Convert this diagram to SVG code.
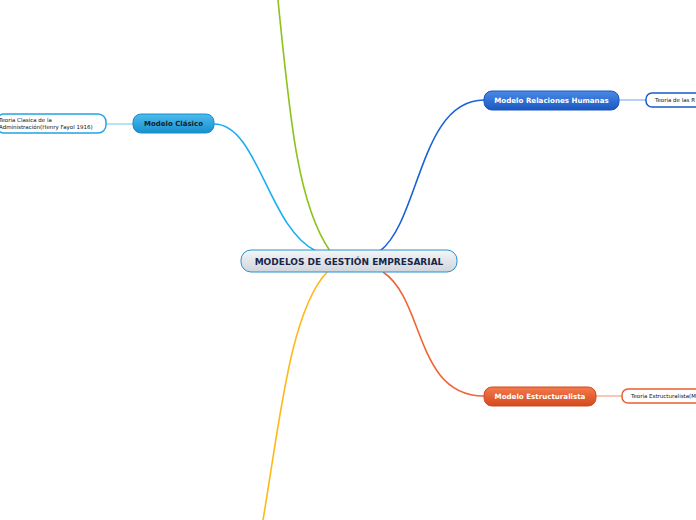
<svg xmlns="http://www.w3.org/2000/svg" width="696" height="520" viewBox="0 0 696 520">
<defs>
<linearGradient id="gCenter" x1="0" y1="0" x2="0" y2="1"><stop offset="0" stop-color="#f4f6f8"/><stop offset="1" stop-color="#cfd5db"/></linearGradient>
<linearGradient id="gClasico" x1="0" y1="0" x2="0" y2="1"><stop offset="0" stop-color="#4cbcee"/><stop offset="1" stop-color="#1890cc"/></linearGradient>
<linearGradient id="gRel" x1="0" y1="0" x2="0" y2="1"><stop offset="0" stop-color="#4a8ae6"/><stop offset="1" stop-color="#1a58c0"/></linearGradient>
<linearGradient id="gEst" x1="0" y1="0" x2="0" y2="1"><stop offset="0" stop-color="#f47a4c"/><stop offset="1" stop-color="#d44a1e"/></linearGradient>
</defs>
<style>
.lbl{font-family:"DejaVu Sans",Verdana,sans-serif;font-weight:bold;text-anchor:middle;dominant-baseline:central}
.small{font-family:"DejaVu Sans",Verdana,sans-serif;font-size:5.5px;fill:#111}
.conn{fill:none;stroke-width:1.6}
.sub{fill:#fff;stroke-width:1.5}
</style>
<rect width="696" height="520" fill="#fff"/>
<g id="connectors">
<path class="conn" stroke="#1aaef0" d="M214,124 C258,124 268,228 316,251"/>
<path class="conn" stroke="#8cc21a" d="M278,0 C290,120 298,205 330,251"/>
<path class="conn" stroke="#1a62d6" d="M380,251 C420,220 420,100 484,100"/>
<path class="conn" stroke="#ffb81a" d="M327,272 C290,312 280,420 263,520"/>
<path class="conn" stroke="#f06436" d="M383,272 C425,300 415,396 484,396"/>
<path class="conn" stroke="#a8daf4" d="M106,124 L133,124"/>
<path class="conn" stroke="#a8c4f2" d="M619,100 L646,100"/>
<path class="conn" stroke="#f8b8a0" d="M596,396 L622,396"/>
</g>
<g id="center">
<rect x="241" y="250" width="216" height="22" rx="10" fill="url(#gCenter)" stroke="#2a8fd0" stroke-width="1"/>
<text class="lbl" x="349" y="261.5" font-size="9" fill="#1a2648">MODELOS DE GESTIÓN EMPRESARIAL</text>
</g>
<g id="modelo-clasico">
<rect x="133" y="114" width="81" height="19" rx="8" fill="url(#gClasico)" stroke="#1a8ccc" stroke-width="1"/>
<text class="lbl" x="173.5" y="123.5" font-size="7" fill="#14202e">Modelo Clásico</text>
</g>
<g id="teoria-clasica">
<rect x="-4" y="114" width="110" height="19" rx="8" class="sub" stroke="#22a4e6"/>
<text class="small" x="-1" y="122">Teoria Clasica de la</text>
<text class="small" x="-1" y="129">Administración(Henry Fayol 1916)</text>
</g>
<g id="modelo-relaciones">
<rect x="484" y="91" width="135" height="19" rx="8" fill="url(#gRel)" stroke="#1a56bc" stroke-width="1"/>
<text class="lbl" x="551.5" y="100.5" font-size="7.1" fill="#fff">Modelo Relaciones Humanas</text>
</g>
<g id="teoria-relaciones">
<rect x="646" y="93" width="70" height="14" rx="6" class="sub" stroke="#1a5cc8"/>
<text class="small" x="655" y="102.2">Teoria de las R</text>
</g>
<g id="modelo-estructuralista">
<rect x="484" y="387" width="112" height="19" rx="8" fill="url(#gEst)" stroke="#d04a1e" stroke-width="1"/>
<text class="lbl" x="540" y="396.5" font-size="7.1" fill="#fff">Modelo Estructuralista</text>
</g>
<g id="teoria-estructuralista">
<rect x="622" y="389" width="90" height="14" rx="6" class="sub" stroke="#ec5e2e"/>
<text class="small" x="631" y="398.2">Teoria Estructuralista(M</text>
</g>
</svg>
